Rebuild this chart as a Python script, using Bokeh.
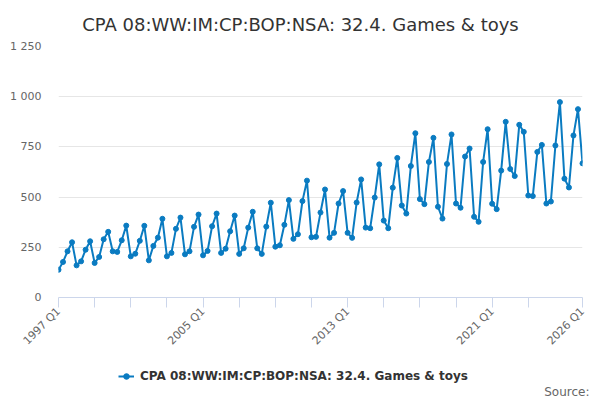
import math
from bokeh.plotting import figure
from bokeh.layouts import column
from bokeh.models import (Range1d, FixedTicker, Legend, LegendItem,
                          ColumnDataSource, Label)
from bokeh.embed import file_html
from bokeh.resources import INLINE

TITLE = "CPA 08:WW:IM:CP:BOP:NSA: 32.4. Games & toys"
SOURCE_TEXT = "Source:"

years = list(range(1997, 2027))
quarters = [f"{y} Q{q}" for y in years for q in range(1, 5)][:117]

values = [
    138, 177, 230, 275,   # 1997
    160, 180, 238, 280,   # 1998
    172, 202, 290, 327,   # 1999
    230, 227, 285, 358,   # 2000
    205, 218, 282, 357,   # 2001
    185, 257, 298, 392,   # 2002
    205, 222, 342, 398,   # 2003
    215, 230, 352, 413,   # 2004
    210, 232, 355, 418,   # 2005
    222, 243, 330, 408,   # 2006
    217, 245, 348, 427,   # 2007
    245, 217, 353, 472,   # 2008
    253, 260, 362, 485,   # 2009
    292, 315, 480, 582,   # 2010
    300, 302, 423, 538,   # 2011
    298, 322, 468, 530,   # 2012
    322, 297, 473, 588,   # 2013
    348, 345, 498, 663,   # 2014
    383, 345, 547, 695,   # 2015
    458, 418, 655, 818,   # 2016
    490, 465, 675, 795,   # 2017
    452, 393, 665, 812,   # 2018
    468, 447, 702, 742,   # 2019
    402, 377, 675, 838,   # 2020
    467, 440, 632, 875,   # 2021
    640, 605, 860, 825,   # 2022
    508, 505, 725, 760,   # 2023
    468, 478, 757, 973,   # 2024
    592, 548, 807, 938,   # 2025
    668,                  # 2026
]

y_ticks = [0, 250, 500, 750, 1000, 1250]
y_tick_labels = ["0", "250", "500", "750", "1 000", "1 250"]

x_tick_cats = [f"{y} Q1" for y in range(1997, 2024, 2)] + ["2026 Q1"]
x_label_cats = ["1997 Q1", "2005 Q1", "2013 Q1", "2021 Q1", "2026 Q1"]

BLUE = "#0a7bc1"
FONT = "DejaVu Sans"
W = 600

x_idx = list(range(len(values)))
src = ColumnDataSource(dict(x=x_idx, y=values, q=quarters))


def bare(h):
    f = figure(width=W, height=h, output_backend="svg", toolbar_location=None,
               x_range=Range1d(0, W), y_range=Range1d(0, h),
               min_border=0, min_border_left=0, min_border_right=0,
               min_border_top=0, min_border_bottom=0, frame_align=False)
    f.axis.visible = False
    f.grid.visible = False
    f.outline_line_color = None
    f.background_fill_color = "white"
    f.border_fill_color = "white"
    return f


# ---- title strip ----
top = bare(36)
top.add_layout(Label(x=300, y=12, x_units="screen", y_units="screen",
                     text=TITLE, text_align="center",
                     text_baseline="alphabetic", text_font_size="18px",
                     text_color="#333333", text_font=FONT))

# ---- main chart ----
p = figure(width=W, height=321, output_backend="svg", toolbar_location=None,
           x_range=Range1d(0, len(values) - 1), y_range=Range1d(0, 1250),
           min_border_left=58, min_border_right=18, min_border_top=10,
           min_border_bottom=60, frame_align=False)
p.outline_line_color = None
p.background_fill_color = "white"
p.border_fill_color = "white"

p.yaxis.ticker = FixedTicker(ticks=y_ticks)
p.yaxis.major_label_overrides = {t: l for t, l in zip(y_ticks, y_tick_labels)}
p.yaxis.axis_line_color = None
p.yaxis.major_tick_line_color = None
p.yaxis.minor_tick_line_color = None
p.yaxis.major_tick_out = 0
p.yaxis.major_tick_in = 0
p.yaxis.major_label_standoff = 17
p.yaxis.major_label_text_color = "#666666"
p.yaxis.major_label_text_font_size = "11px"
p.yaxis.major_label_text_font = FONT

p.ygrid.grid_line_color = "#e6e6e6"
p.xgrid.visible = False

x_tick_pos = [quarters.index(c) for c in x_tick_cats]
p.xaxis.ticker = FixedTicker(ticks=x_tick_pos)
p.xaxis.major_label_overrides = {
    quarters.index(c): (c if c in x_label_cats else "") for c in x_tick_cats
}
p.xaxis.axis_line_color = "#ccd6eb"
p.xaxis.major_tick_line_color = "#ccd6eb"
p.xaxis.minor_tick_line_color = None
p.xaxis.major_tick_out = 10
p.xaxis.major_tick_in = 0
p.xaxis.major_label_orientation = math.pi / 4
p.xaxis.major_label_standoff = 2
p.xaxis.major_label_text_color = "#666666"
p.xaxis.major_label_text_font_size = "11px"
p.xaxis.major_label_text_font = FONT

p.line(x="x", y="y", source=src, line_color=BLUE, line_width=2)
p.scatter(x="x", y="y", source=src, size=5, fill_color=BLUE, line_color=BLUE)

# ---- legend + source strip ----
bot = bare(43)
bot.extra_y_ranges = {"hidden": Range1d(-3000, -2000)}
lg_line = bot.line(x="x", y="y", source=src, line_color=BLUE, line_width=2,
                   y_range_name="hidden")
lg_pts = bot.scatter(x="x", y="y", source=src, size=5, fill_color=BLUE,
                     line_color=BLUE, y_range_name="hidden")
legend = Legend(items=[LegendItem(label=TITLE, renderers=[lg_line, lg_pts])],
                location=(118, 17), orientation="horizontal",
                padding=4, margin=0, spacing=0,
                border_line_color=None, background_fill_alpha=0,
                label_text_font_size="12px", label_text_font_style="bold",
                label_text_color="#333333", label_text_font=FONT,
                glyph_width=16, glyph_height=14, label_height=14,
                label_standoff=6)
bot.add_layout(legend)
bot.add_layout(Label(x=589, y=9, x_units="screen", y_units="screen",
                     text=SOURCE_TEXT, text_align="right",
                     text_baseline="alphabetic", text_font_size="12px",
                     text_color="#666666", text_font=FONT))

layout = column(top, p, bot, spacing=0)
open("out.html", "w").write(file_html(layout, INLINE))
